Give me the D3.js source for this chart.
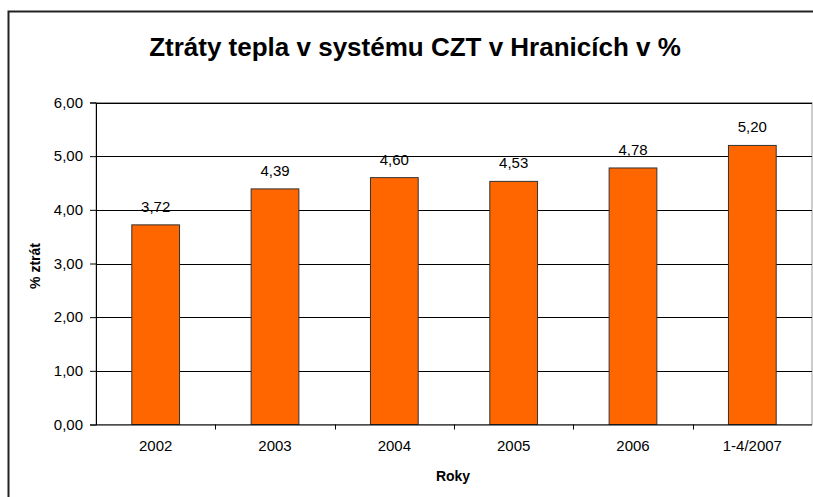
<!DOCTYPE html>
<html>
<head>
<meta charset="utf-8">
<script src="https://cdn.jsdelivr.net/npm/d3@7"></script>
<style>
  body { margin: 0; background: #fff; }
  text { font-family: "Liberation Sans", Arial, sans-serif; }
</style>
</head>
<body>
<svg id="chart" width="813" height="497"></svg>
<script>
var categories = ['2002', '2003', '2004', '2005', '2006', '1-4/2007'];
var values = [3.72, 4.39, 4.60, 4.53, 4.78, 5.20];
var yTicks = [0, 1, 2, 3, 4, 5, 6];

var svg = d3.select('#chart');
var fmt = function(v){ return v.toFixed(2).replace('.', ','); };
var FONT = '"Liberation Sans", Arial, sans-serif';

// outer chart frame (right and bottom edge fall outside the picture)
svg.append('rect')
  .attr('x', 8.5).attr('y', 11.5)
  .attr('width', 830).attr('height', 520)
  .attr('fill', '#fff')
  .attr('stroke', '#222')
  .attr('stroke-width', 2);

var margin = {left: 96, right: 812, top: 102.5, bottom: 424.5};

var x = d3.scaleBand()
  .domain(categories)
  .range([margin.left, margin.right])
  .paddingInner(0.6).paddingOuter(0.3);

// band for ticks between categories
var xOuter = d3.scaleBand().domain(categories).range([margin.left, margin.right]);

var y = d3.scaleLinear().domain([0, 6]).range([margin.bottom, margin.top]);

// plot area border
svg.append('rect')
  .attr('x', margin.left).attr('y', margin.top)
  .attr('width', margin.right - margin.left)
  .attr('height', margin.bottom - margin.top)
  .attr('fill', '#fff')
  .attr('stroke', '#999')
  .attr('stroke-width', 1);

// gridlines
svg.append('g').selectAll('line')
  .data(yTicks.slice(1))
  .enter().append('line')
  .attr('x1', margin.left).attr('x2', margin.right)
  .attr('y1', function(d){ return Math.round(y(d)) + 0.5; })
  .attr('y2', function(d){ return Math.round(y(d)) + 0.5; })
  .attr('stroke', '#000')
  .attr('stroke-width', 1);

// bars
svg.append('g').selectAll('rect')
  .data(values)
  .enter().append('rect')
  .attr('x', function(d, i){ return x(categories[i]); })
  .attr('y', function(d){ return y(d); })
  .attr('width', x.bandwidth())
  .attr('height', function(d){ return margin.bottom - y(d); })
  .attr('fill', '#FF6600')
  .attr('stroke', '#333')
  .attr('stroke-width', 1);

// value labels
svg.append('g').selectAll('text')
  .data(values)
  .enter().append('text')
  .attr('x', function(d, i){ return x(categories[i]) + x.bandwidth() / 2; })
  .attr('y', function(d){ return y(d) - 13; })
  .attr('text-anchor', 'middle')
  .attr('font-size', 15)
  .attr('fill', '#000')
  .text(fmt);

// y axis
var yAxis = svg.append('g')
  .attr('transform', 'translate(' + margin.left + ',0)')
  .call(d3.axisLeft(y).tickValues(yTicks).tickFormat(fmt).tickSize(6).tickPadding(7));
yAxis.select('.domain').attr('stroke', '#000');
yAxis.selectAll('.tick line').attr('stroke', '#000');
yAxis.selectAll('text').attr('font-size', 15).attr('fill', '#000')
  .style('font-family', FONT);

// x axis
var xAxis = svg.append('g')
  .attr('transform', 'translate(0,' + margin.bottom + ')')
  .call(d3.axisBottom(xOuter).tickSize(0).tickPadding(16));
xAxis.select('.domain').attr('stroke', '#000').attr('d', 'M' + margin.left + ',0.5H' + margin.right);
xAxis.selectAll('text').attr('font-size', 15).attr('fill', '#000')
  .style('font-family', FONT);

// tick marks between categories
svg.append('g').selectAll('line')
  .data(categories.slice(1))
  .enter().append('line')
  .attr('x1', function(d){ return Math.round(xOuter(d)) + 0.5; })
  .attr('x2', function(d){ return Math.round(xOuter(d)) + 0.5; })
  .attr('y1', margin.bottom).attr('y2', margin.bottom + 5)
  .attr('stroke', '#000');

// title
svg.append('text')
  .attr('x', 415).attr('y', 56)
  .attr('text-anchor', 'middle')
  .attr('font-size', 26)
  .attr('font-weight', 'bold')
  .text('Ztráty tepla v systému CZT v Hranicích v %');

// axis titles
svg.append('text')
  .attr('x', 453).attr('y', 481)
  .attr('text-anchor', 'middle')
  .attr('font-size', 14)
  .attr('font-weight', 'bold')
  .text('Roky');

svg.append('text')
  .attr('transform', 'translate(40,266) rotate(-90)')
  .attr('text-anchor', 'middle')
  .attr('font-size', 14)
  .attr('font-weight', 'bold')
  .text('% ztrát');
</script>
</body>
</html>
